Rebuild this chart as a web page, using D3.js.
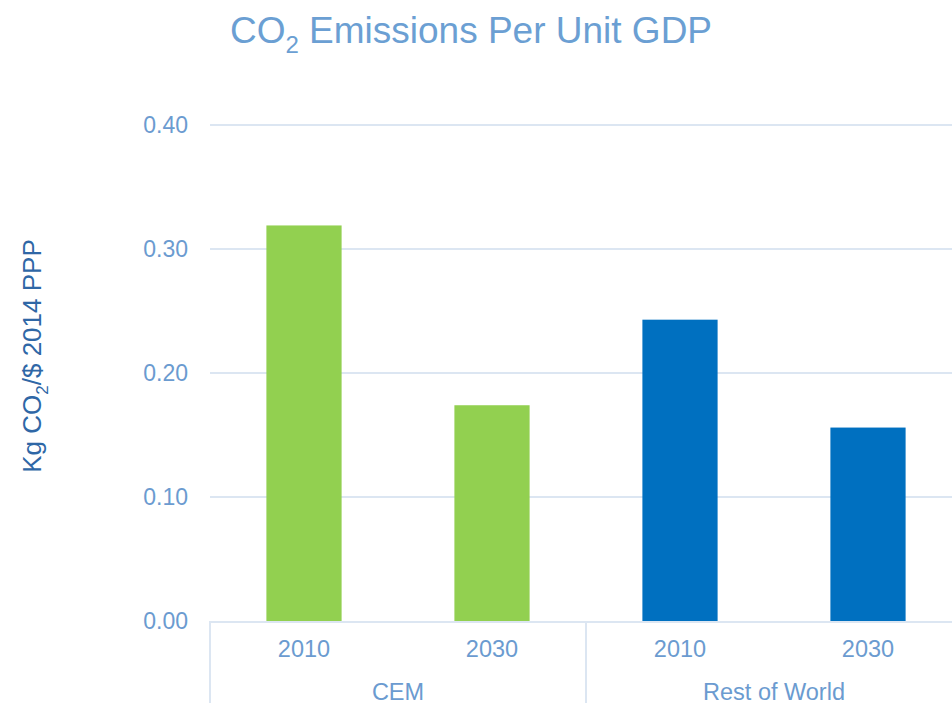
<!DOCTYPE html>
<html lang="en">
<head>
<meta charset="utf-8">
<title>CO2 Emissions Per Unit GDP</title>
<script src="https://cdn.jsdelivr.net/npm/d3@7"></script>
<style>
  body { margin: 0; background: #fff; }
  text { font-family: "Liberation Sans", Arial, sans-serif; }
</style>
</head>
<body>
<script>
// data
var groups = ["CEM", "Rest of World"];
var years = ["2010", "2030"];
var cemValues = [0.319, 0.174];
var rowValues = [0.243, 0.156];
var yTicks = [0, 0.1, 0.2, 0.3, 0.4];
var groupColors = ["#92d050", "#0070c0"];

var w = 952, h = 703;
// plot box (runs past the right edge, like the original)
var plotLeft = 210, plotRight = 962, plotTop = 125, plotBottom = 621;

var svg = d3.select("body").append("svg")
  .attr("width", w)
  .attr("height", h);

var bars = [];
[cemValues, rowValues].forEach(function(vals, g) {
  vals.forEach(function(v, i) {
    bars.push({ key: groups[g] + "|" + years[i], group: g, year: years[i], value: v });
  });
});

var x = d3.scaleBand()
  .domain(bars.map(function(d) { return d.key; }))
  .range([plotLeft, plotRight])
  .paddingInner(0.6)
  .paddingOuter(0.3);

var y = d3.scaleLinear()
  .domain([0, 0.4])
  .range([plotBottom, plotTop]);

// gridlines
svg.append("g").selectAll("line")
  .data(yTicks.slice(1))
  .enter().append("line")
  .attr("x1", plotLeft).attr("x2", w)
  .attr("y1", function(d) { return y(d); })
  .attr("y2", function(d) { return y(d); })
  .attr("stroke", "#dce6f2")
  .attr("stroke-width", 2);

// y tick labels
svg.append("g").selectAll("text")
  .data(yTicks)
  .enter().append("text")
  .attr("x", 188)
  .attr("y", function(d) { return y(d) + 8; })
  .attr("text-anchor", "end")
  .attr("font-size", 23)
  .attr("fill", "#6b9bd0")
  .text(function(d) { return d3.format(".2f")(d); });

// bars
svg.append("g").selectAll("rect")
  .data(bars)
  .enter().append("rect")
  .attr("x", function(d) { return x(d.key); })
  .attr("width", x.bandwidth())
  .attr("y", function(d) { return y(d.value); })
  .attr("height", function(d) { return y(0) - y(d.value); })
  .attr("fill", function(d) { return groupColors[d.group]; });

// x axis line and group separators
var axisColor = "#dce6f2";
svg.append("line")
  .attr("x1", plotLeft).attr("x2", w)
  .attr("y1", plotBottom + 1).attr("y2", plotBottom + 1)
  .attr("stroke", axisColor).attr("stroke-width", 2);

var groupW = (plotRight - plotLeft) / groups.length;
svg.append("g").selectAll("line")
  .data(d3.range(groups.length + 1))
  .enter().append("line")
  .attr("x1", function(i) { return plotLeft + i * groupW; })
  .attr("x2", function(i) { return plotLeft + i * groupW; })
  .attr("y1", plotBottom).attr("y2", h)
  .attr("stroke", axisColor).attr("stroke-width", 2);

// year labels
svg.append("g").selectAll("text")
  .data(bars)
  .enter().append("text")
  .attr("x", function(d) { return x(d.key) + x.bandwidth() / 2; })
  .attr("y", 657)
  .attr("text-anchor", "middle")
  .attr("font-size", 23.5)
  .attr("fill", "#6b9bd0")
  .text(function(d) { return d.year; });

// group labels
svg.append("g").selectAll("text")
  .data(groups)
  .enter().append("text")
  .attr("x", function(d, i) { return plotLeft + (i + 0.5) * groupW; })
  .attr("y", 700)
  .attr("text-anchor", "middle")
  .attr("font-size", 23.5)
  .attr("fill", "#6b9bd0")
  .text(function(d) { return d; });

// title
var title = svg.append("text")
  .attr("x", 471)
  .attr("y", 43)
  .attr("text-anchor", "middle")
  .attr("font-size", 37)
  .attr("fill", "#6b9fd3");
title.append("tspan").text("CO");
title.append("tspan").attr("font-size", 24).attr("dy", 10).text("2");
title.append("tspan").attr("dy", -10).text(" Emissions Per Unit GDP");

// y axis label
var ylab = svg.append("text")
  .attr("transform", "translate(41,356) rotate(-90)")
  .attr("text-anchor", "middle")
  .attr("font-size", 26)
  .attr("fill", "#2f67a6");
ylab.append("tspan").text("Kg CO");
ylab.append("tspan").attr("font-size", 17).attr("dy", 7).text("2");
ylab.append("tspan").attr("dy", -7).text("/$ 2014 PPP");
</script>
</body>
</html>
